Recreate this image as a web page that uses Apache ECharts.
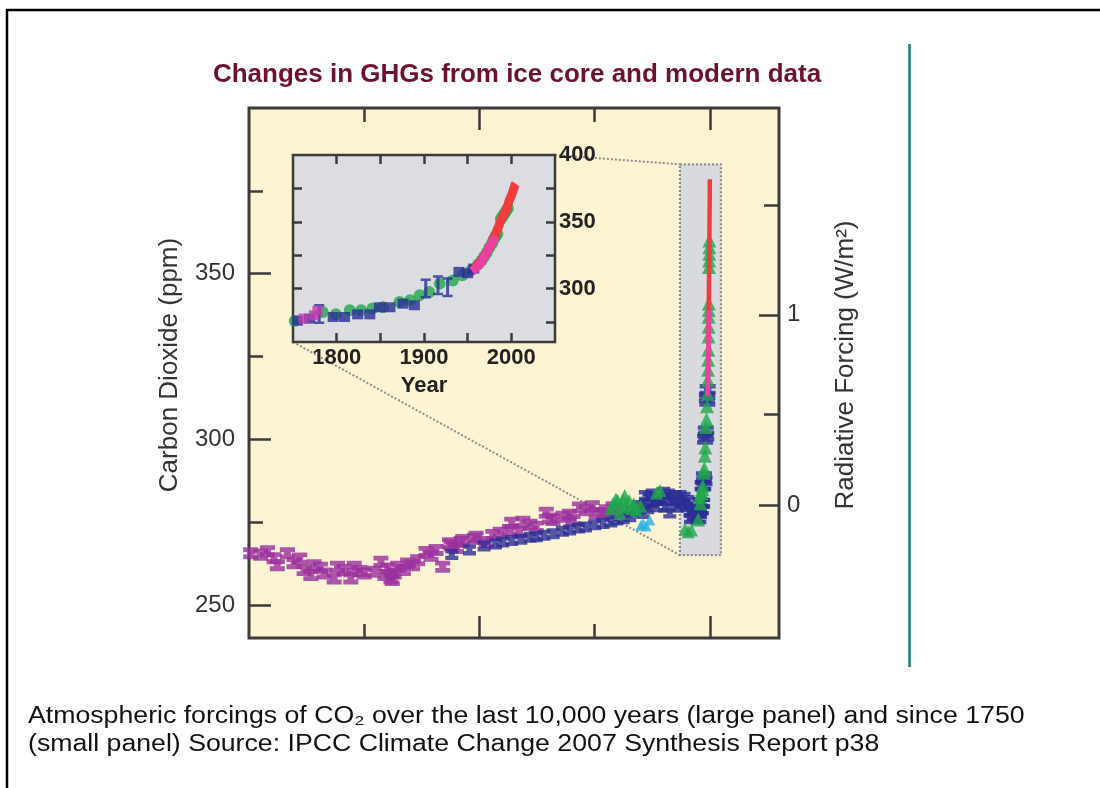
<!DOCTYPE html>
<html><head><meta charset="utf-8">
<script src="https://cdn.jsdelivr.net/npm/echarts@6/dist/echarts.min.js"></script>
<style>html,body{margin:0;padding:0;background:#fff}#c{width:1100px;height:788px}</style>
</head><body><div id="c"></div>
<script>
// ---------------- DATA ----------------
const presentYear = 2005;
// main panel: x = years relative to 2005 (negative = before present), y = CO2 ppm
const mainXRange = [-10000, 1500];
const mainPpmRange = [240, 400];
const mainMajorTicksX = [-5000, 0];
const mainMinorTicksX = [-7500, -2500];
const ppmMajorTicks = [250, 300, 350];
const ppmMinorTicks = [275, 325, 375];
const ppmLabels = [250, 300, 350];
const forcingMajorTicks = [0, 1];
const forcingMinorTicks = [0.5, 1.5];
const forcingLabels = [0, 1];

const purpleIceCore = [
 [-9963,265.6],[-9746,265.1],[-9600,266.2],[-9457,264.1],[-9384,262.0],[-9167,265.6],[-9022,262.6],[-8900,264.0],
 [-8804,260.5],[-8659,259.0],[-8587,262.0],[-8450,261.2],[-8370,259.5],[-8152,258.0],[-8080,261.5],[-7935,260.5],
 [-7790,258.0],[-7717,261.5],[-7600,260.2],[-7500,259.5],[-7283,260.0],[-7137,263.0],[-7050,259.0],[-6993,261.0],
 [-6920,258.0],[-6890,257.5],[-6848,259.5],[-6775,261.5],[-6650,260.5],[-6558,262.5],[-6450,262.0],[-6341,263.5],
 [-6159,266.0],[-6050,264.8],[-5942,266.6],[-5797,261.5],[-5652,268.6],[-5616,268.0],[-5500,267.2],[-5398,269.0],
 [-5362,269.6],[-5109,270.0],[-5072,270.6],[-4855,269.0],[-4710,271.1],[-4550,271.8],[-4348,272.6],[-4300,274.8],
 [-4130,272.0],[-4058,275.1],[-3900,274.2],[-3768,273.6],[-3550,277.8],[-3478,276.1],[-3406,275.6],[-3188,276.6],
 [-3050,277.2],[-2971,275.6],[-2830,279.4],[-2681,278.6],[-2550,279.8],[-2464,277.6],[-2319,277.6],[-2246,278.6],
 [-2100,279.5],[-1960,279.0]
];
const blueIceCore = [
 [-5600,265.2],[-5217,266.6],[-4900,267.8],[-4650,268.4],[-4493,269.0],[-4300,269.4],[-4100,269.8],[-3900,270.4],
 [-3768,270.6],[-3600,271.0],[-3400,271.5],[-3200,272.2],[-3043,272.6],[-2850,273.2],[-2700,273.5],[-2500,274.2],
 [-2319,274.6],[-2150,275.0],[-2029,275.6],[-1880,276.0],[-1739,276.6],[-1700,278.0],[-1600,278.5],[-1550,280.0],
 [-1449,277.6],[-1400,283.0],[-1380,280.5],[-1350,279.0],[-1304,282.6],[-1250,283.5],[-1230,281.0],[-1159,279.6],
 [-1100,282.0],[-1050,281.5],[-1000,284.0],[-980,279.5],[-942,282.6],[-900,283.5],[-870,277.7],[-800,281.0],
 [-760,283.0],[-724,281.7],[-700,279.5],[-650,283.0],[-620,281.0],[-580,280.5],[-560,282.5],[-507,279.6],
 [-480,281.5],[-430,278.0],[-420,276.0],[-362,276.6],[-340,279.0],[-300,278.5],[-260,276.0]
];
const greenIceCore = [
 [-2150,279.0],[-2101,280.6],[-2040,282.0],[-2000,281.5],[-1956,277.6],[-1920,279.5],[-1884,281.7],[-1850,283.0],
 [-1800,280.2],[-1750,281.5],[-1700,279.0],[-1650,280.5],[-1594,278.6],[-1500,279.8],[-1159,283.8],[-1080,284.5],
 [-540,272.8],[-470,272.1],[-400,272.6]
];
const cyanIceCore = [[-1500,274.0],[-1449,274.6],[-1380,273.8],[-1304,275.6]];

// zoom box in the main panel (relative years, ppm)
const zoomBoxX = [-650, 240];
const zoomBoxPpm = [265, 383];

// inset (since 1750): x = calendar year
const insetYearRange = [1750, 2050];
const insetPpmRange = [260, 400];
const insetTicksX = [1800, 1850, 1900, 1950, 2000];
const insetLabelsX = [1800, 1900, 2000];
const insetTicksY = [275, 300, 325, 350, 375];
const insetLabelsY = [300, 350, 400];

const insetBlue = [[1755,276.0],[1769,277.5],[1796,278.7],[1809,278.7],[1824,280.7],[1838,280.7],[1849,286.0],
 [1861,286.0],[1876,288.7],[1889,287.5],[1940,312.5],[1950,311.5],[1957,315.0]];
const insetBlueBars = [[1780,281.0],[1902,300.0],[1916,302.5],[1927,301.0]];
const insetGreen = [[1752,275.8],[1784,282.5],[1799,280.7],[1815,283.7],[1828,283.7],[1841,285.0],[1853,286.0],
 [1872,290.0],[1884,291.2],[1895,295.0],[1906,297.5],[1918,303.7],[1933,306.0],[1944,310.0],[1954,313.7],
 [1962,318.0],[1966,321.0],[1969,324.0],[1972,327.0],[1975,331.0],[1978,334.0],[1980,337.0],[1982,339.0],
 [1984,341.0],[1988,352.0],[1990,354.0],[1992,356.0],[1994,358.0],[1996,360.0]];
const insetMagenta = [[1762,277.5],[1774,280.0],[1778,283.5]];
const maunaLoa = [[1958,315.3],[1960,316.9],[1962,318.4],[1964,319.6],[1966,321.4],[1968,323.0],[1970,325.7],
 [1972,327.4],[1974,330.2],[1976,332.1],[1978,335.4],[1980,338.7],[1982,341.1],[1984,344.4],[1986,347.2],
 [1988,351.5],[1990,354.3],[1992,356.3],[1994,358.8],[1996,362.6],[1998,366.7],[2000,369.5],[2002,373.1],
 [2004,377.5],[2005,378.5]];
const southPole = [[1955,313.0],[1958,314.5],[1961,316.5],[1964,318.5],[1967,321.5],[1970,325.0],[1973,328.5],
 [1976,332.0],[1979,335.5],[1982,339.0]];

// ---------------- STYLE ----------------
const AX = '#3b3b3b';
const FONT = '"Liberation Sans", Arial, Helvetica, sans-serif';
const IBEAM = 'path://M0,0H13V4H9.5V6H13V10H0V6H3.5V4H0Z';
const C_PURPLE = '#9a2f9e', C_BLUE = '#2a2d96', C_GREEN = '#1fa84c', C_CYAN = '#2cb2e6',
      C_RED = '#f23b3b', C_PINK = '#ee3f9f', C_MAG = '#c23cb2';

const ppmFromForcing = f => 280 * Math.exp(f / 5.35);
const forcingFromPpm = c => 5.35 * Math.log(c / 280);
const rel = arr => arr.map(d => [d[0] - presentYear, d[1]]);

function ax(grid, pos, range, ticks, len, extra) {
  return Object.assign({
    type: 'value', gridIndex: grid, position: pos, min: range[0], max: range[1],
    axisLine: { show: false, onZero: false }, splitLine: { show: false },
    axisTick: { show: true, inside: true, length: len, customValues: ticks, lineStyle: { color: AX, width: 2.5 } },
    axisLabel: { show: false }
  }, extra || {});
}

const chart = echarts.init(document.getElementById('c'), null, { renderer: 'canvas' });

const option = {
  animation: false,
  backgroundColor: '#ffffff',
  title: [{
    text: 'Changes in GHGs from ice core and modern data',
    left: 517, top: 62, textAlign: 'center', padding: 0,
    textStyle: { fontSize: 26, fontWeight: 'bold', color: '#6d1131', fontFamily: FONT }
  }],
  grid: [
    { left: 249, top: 108, width: 530, height: 530, show: true, backgroundColor: '#fdf4d3', borderColor: AX, borderWidth: 3 },
    { left: 293, top: 155, width: 262, height: 187, show: true, backgroundColor: '#dcdde0', borderColor: AX, borderWidth: 2.5, z: 4 }
  ],
  xAxis: [
    ax(0, 'bottom', mainXRange, mainMajorTicksX, 22),
    ax(0, 'bottom', mainXRange, mainMinorTicksX, 14),
    ax(0, 'top', mainXRange, mainMajorTicksX, 22),
    ax(0, 'top', mainXRange, mainMinorTicksX, 14),
    ax(1, 'bottom', insetYearRange, insetTicksX, 9, {
      z: 5,
      axisLabel: { show: true, customValues: insetLabelsX, margin: 5, fontSize: 22, fontWeight: 'bold', color: '#222', fontFamily: FONT,
        formatter: v => String(v) },
      name: 'Year', nameLocation: 'middle', nameGap: 33,
      nameTextStyle: { fontSize: 22, fontWeight: 'bold', color: '#222', fontFamily: FONT }
    }),
    ax(1, 'top', insetYearRange, insetTicksX, 9, { z: 5 })
  ],
  yAxis: [
    ax(0, 'left', mainPpmRange, ppmMajorTicks, 22, {
      axisLabel: { show: true, customValues: ppmLabels, margin: 14, fontSize: 24, color: '#333', fontFamily: FONT },
      name: 'Carbon Dioxide (ppm)', nameLocation: 'middle', nameRotate: 90, nameGap: 66,
      nameTextStyle: { fontSize: 26, color: '#333', fontFamily: FONT, padding: [0, 0, 0, 16] }
    }),
    ax(0, 'left', mainPpmRange, ppmMinorTicks, 14),
    ax(0, 'right', mainPpmRange, forcingMajorTicks.map(ppmFromForcing), 20, {
      axisLabel: { show: true, customValues: forcingLabels.map(ppmFromForcing), margin: 8, fontSize: 24, color: '#333', fontFamily: FONT,
        formatter: v => String(Math.round(forcingFromPpm(v))) },
      name: 'Radiative Forcing (W/m²)', nameLocation: 'middle', nameRotate: 90, nameGap: 54,
      nameTextStyle: { fontSize: 26, color: '#333', fontFamily: FONT, padding: [0, 0, 0, 16] }
    }),
    ax(0, 'right', mainPpmRange, forcingMinorTicks.map(ppmFromForcing), 15),
    ax(1, 'right', insetPpmRange, insetTicksY, 9, {
      z: 5,
      axisLabel: { show: true, customValues: insetLabelsY, margin: 4, fontSize: 22, fontWeight: 'bold', color: '#222', fontFamily: FONT }
    }),
    ax(1, 'left', insetPpmRange, insetTicksY, 9, { z: 5 })
  ],
  series: [
    { type: 'custom', xAxisIndex: 0, yAxisIndex: 0, z: 1, silent: true,
      data: [[zoomBoxX[0], zoomBoxPpm[0], zoomBoxX[1], zoomBoxPpm[1]]],
      renderItem: (params, api) => {
        const p0 = api.coord([api.value(0), api.value(3)]);
        const p1 = api.coord([api.value(2), api.value(1)]);
        return { type: 'rect', shape: { x: p0[0], y: p0[1], width: p1[0] - p0[0], height: p1[1] - p0[1] },
          style: { fill: '#d9dadd', stroke: '#8c8c8c', lineWidth: 2.2, lineDash: [2, 2] } };
      } },
    { type: 'scatter', xAxisIndex: 0, yAxisIndex: 0, data: purpleIceCore, symbol: IBEAM, symbolSize: [15, 12], itemStyle: { color: C_PURPLE }, z: 3 },
    { type: 'scatter', xAxisIndex: 0, yAxisIndex: 0, data: blueIceCore, symbol: IBEAM, symbolSize: [13, 11], itemStyle: { color: C_BLUE }, z: 3 },
    { type: 'scatter', xAxisIndex: 0, yAxisIndex: 0, data: cyanIceCore, symbol: 'triangle', symbolSize: 11, itemStyle: { color: C_CYAN }, z: 3 },
    { type: 'scatter', xAxisIndex: 0, yAxisIndex: 0, data: greenIceCore, symbol: 'triangle', symbolSize: 13, itemStyle: { color: C_GREEN }, z: 3 },
    // modern data in the main panel (spike)
    { type: 'scatter', xAxisIndex: 0, yAxisIndex: 0, data: rel(insetBlue.concat(insetBlueBars)), symbol: IBEAM, symbolSize: [16, 11], itemStyle: { color: C_BLUE }, z: 3 },
    { type: 'scatter', xAxisIndex: 0, yAxisIndex: 0, data: rel(insetGreen), symbol: 'triangle', symbolSize: 14, itemStyle: { color: C_GREEN }, z: 3 },
    { type: 'line', xAxisIndex: 0, yAxisIndex: 0, data: rel(maunaLoa), showSymbol: false, lineStyle: { color: C_RED, width: 4.5 }, z: 4 },
    { type: 'line', xAxisIndex: 0, yAxisIndex: 0, data: rel(southPole), showSymbol: false, lineStyle: { color: C_PINK, width: 4.5 }, z: 4 },
    // inset
    { type: 'scatter', xAxisIndex: 4, yAxisIndex: 4, data: insetGreen, symbol: 'circle', symbolSize: 12, itemStyle: { color: C_GREEN }, z: 6 },
    { type: 'scatter', xAxisIndex: 4, yAxisIndex: 4, data: insetBlue, symbol: 'rect', symbolSize: [11, 10], itemStyle: { color: C_BLUE }, z: 6 },
    { type: 'scatter', xAxisIndex: 4, yAxisIndex: 4, data: insetBlueBars, symbol: 'path://M0,0H10V2.5H6.5V17.5H10V20H0V17.5H3.5V2.5H0Z', symbolSize: [10, 20], itemStyle: { color: C_BLUE }, z: 6 },
    { type: 'scatter', xAxisIndex: 4, yAxisIndex: 4, data: insetMagenta, symbol: 'rect', symbolSize: [10, 10], itemStyle: { color: C_MAG }, z: 6 },
    { type: 'line', xAxisIndex: 4, yAxisIndex: 4, data: maunaLoa, showSymbol: false, lineStyle: { color: C_RED, width: 9 }, z: 7 },
    { type: 'line', xAxisIndex: 4, yAxisIndex: 4, data: southPole, showSymbol: false, lineStyle: { color: C_PINK, width: 9 }, z: 7 }
  ]
};
chart.setOption(option);

// static decorations + connector lines computed from the axes
const tr = chart.convertToPixel({ xAxisIndex: 4, yAxisIndex: 4 }, [insetYearRange[1], insetPpmRange[1]]);
const bl = chart.convertToPixel({ xAxisIndex: 4, yAxisIndex: 4 }, [insetYearRange[0], insetPpmRange[0]]);
const boxTL = chart.convertToPixel({ xAxisIndex: 0, yAxisIndex: 0 }, [zoomBoxX[0], zoomBoxPpm[1]]);
const boxBL = chart.convertToPixel({ xAxisIndex: 0, yAxisIndex: 0 }, [zoomBoxX[0], zoomBoxPpm[0]]);
const dotted = { stroke: '#8c8c8c', lineWidth: 2, lineDash: [2, 2] };
chart.setOption({
  graphic: [
    { type: 'rect', silent: true, shape: { x: 7, y: 10, width: 1200, height: 900 }, style: { fill: null, stroke: '#000', lineWidth: 2.5 } },
    { type: 'line', silent: true, shape: { x1: 909.5, y1: 44, x2: 909.5, y2: 667 }, style: { stroke: '#0f7f6e', lineWidth: 2.5 } },
    { type: 'text', silent: true, x: 28, y: 703, scaleX: 1.16,
      style: { text: 'Atmospheric forcings of CO₂ over the last 10,000 years (large panel) and since 1750\n(small panel) Source: IPCC Climate Change 2007 Synthesis Report p38',
        font: '23px ' + FONT, fill: '#111', lineHeight: 28, verticalAlign: 'top' } },
    { type: 'line', silent: true, z: 1, shape: { x1: tr[0], y1: tr[1], x2: boxTL[0], y2: boxTL[1] }, style: dotted },
    { type: 'line', silent: true, z: 1, shape: { x1: bl[0], y1: bl[1], x2: boxBL[0], y2: boxBL[1] }, style: dotted }
  ]
});
</script></body></html>
